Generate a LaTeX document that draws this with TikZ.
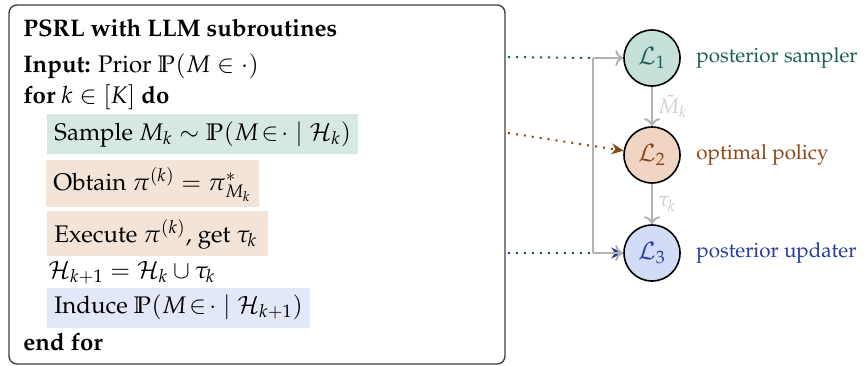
\documentclass[tikz,border=0pt]{standalone}
\usepackage[T1]{fontenc}
\usepackage{mathpazo}
\usepackage{amssymb}
\usetikzlibrary{arrows.meta}
\definecolor{cSample}{RGB}{213,232,228}
\definecolor{cObtain}{RGB}{244,228,216}
\definecolor{cInduce}{RGB}{226,232,248}
\definecolor{cLa}{RGB}{198,224,218}
\definecolor{cLb}{RGB}{240,214,194}
\definecolor{cLc}{RGB}{210,220,246}
\definecolor{tTeal}{RGB}{28,98,84}
\definecolor{tBrown}{RGB}{140,70,20}
\definecolor{tBlue}{RGB}{40,60,160}
\definecolor{gArrow}{RGB}{178,178,178}
\definecolor{gLabel}{RGB}{205,205,205}
\begin{document}
\begin{tikzpicture}[x=0.5pt,y=-0.5pt,
  every node/.style={font=\fontsize{12}{14}\selectfont},
  txt/.style={anchor=base west, inner sep=0pt},
  hl/.style={anchor=base west, inner xsep=3.5pt, inner ysep=0pt},
  circ/.style={circle, draw=black, line width=0.8pt, minimum size=28pt, inner sep=0pt},
  side/.style={anchor=west, inner sep=0pt, font=\fontsize{10.3}{12}\selectfont},
  garrow/.style={draw=gArrow, line width=1pt, -{To[length=4pt,width=8pt]}},
  gline/.style={draw=gArrow, line width=1pt},
  dots/.style={line width=1pt, dash pattern=on 1pt off 3pt},
  dtip/.style={-{Stealth[length=6pt,width=5.5pt]}},
  small/.style={font=\fontsize{10.5}{12}\selectfont, text=gLabel, inner sep=2.5pt}
]
\useasboundingbox (0,0) rectangle (865,365);
\node[draw=black!75, line width=0.7pt, rounded corners=4pt, minimum width=248pt, minimum height=179.5pt, inner sep=0pt] (algo) at (257,184.5) {};

\node[txt] (title) at (23,36) {\textbf{PSRL with LLM subroutines}};
\node[txt] (input) at (23,72) {\textbf{Input:} Prior $\mathbb{P}(M\in\cdot)$};
\node[txt] (for) at (23,103) {\textbf{for} $k\in[K]$ \textbf{do}};
\node[hl, fill=cSample, text height=13pt, text depth=7pt] (sample) at (47,140) {Sample $M_k\sim\mathbb{P}(M\!\in\!\cdot\mid\mathcal{H}_k)$};
\node[hl, fill=cObtain, text height=15pt, text depth=8.5pt] (obtain) at (46,190) {Obtain $\pi^{(k)}=\pi^*_{M_k}$};
\node[hl, fill=cObtain, text height=15.5pt, text depth=7pt] (execute) at (47,242) {Execute $\pi^{(k)}$, get $\tau_k$\,};
\node[txt] (hist) at (48,278) {$\mathcal{H}_{k+1}=\mathcal{H}_k\cup\tau_k$};
\node[hl, fill=cInduce, text height=12.5pt, text depth=7.5pt] (induce) at (47,313) {Induce $\mathbb{P}(M\!\in\!\cdot\mid\mathcal{H}_{k+1})$};
\node[txt] (endfor) at (23,350) {\textbf{end for}};

\node[circ, fill=cLa, text=tTeal] (L1) at (652,58) {$\mathcal{L}_1$};
\node[circ, fill=cLb, text=tBrown] (L2) at (652,155) {$\mathcal{L}_2$};
\node[circ, fill=cLc, text=tBlue] (L3) at (652,253) {$\mathcal{L}_3$};

\node[side, text=tTeal] (lab1) at (696,58) {posterior sampler};
\node[side, text=tBrown] (lab2) at (696,155) {optimal policy};
\node[side, text=tBlue] (lab3) at (696,253) {posterior updater};

\coordinate (s1) at (508,57);
\coordinate (s2) at (508,133);
\coordinate (s3) at (508,253);
\coordinate (v1) at (593,58);
\coordinate (v3) at (593,253);

\draw[dots, draw=tTeal] (s1) -- (v1);
\draw[dots, draw=tBrown, dtip] (s2) -- (L2);
\draw[dots, draw=tBlue, dtip] (s3) -- (L3);
\draw[gline] (v1) -- (v3);
\draw[garrow] (v1) -- (L1);
\draw[garrow] (v3) -- (L3);
\draw[garrow] (L1) -- node[small, right] {$\tilde{M}_k$} (L2);
\draw[garrow] (L2) -- node[small, right] {$\tau_k$} (L3);
\end{tikzpicture}
\end{document}
